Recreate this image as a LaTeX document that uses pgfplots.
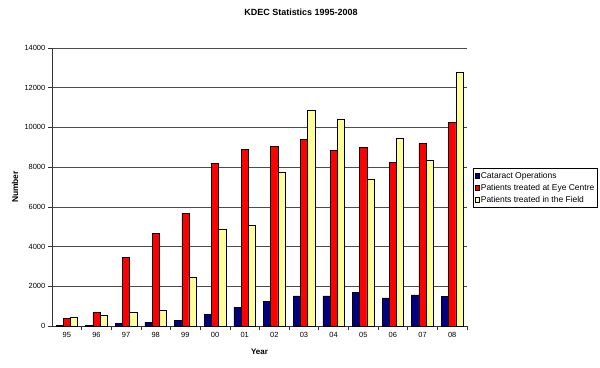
\documentclass[border=0pt]{standalone}
\usepackage{fontspec}
\setmainfont{Liberation Sans}
\usepackage{pgfplots}
\pgfplotsset{compat=1.18}
\definecolor{navyb}{RGB}{0,0,128}
\definecolor{lyellow}{RGB}{255,255,153}
\begin{document}
\fontsize{7.5}{9}\selectfont
\begin{tikzpicture}
\begin{axis}[
  at={(0,0)}, anchor=south west,
  width=415bp, height=278bp, scale only axis,
  ybar=0pt, bar width=7.2bp,
  xmin=-0.5, xmax=13.5, ymin=0, ymax=14000,
  xtick={0,...,13},
  xticklabels={95,96,97,98,99,00,01,02,03,04,05,06,07,08},
  major x tick style={draw=none},
  minor xtick={0.5,1.5,...,13.5},
  tick align=outside,
  major tick length=4bp, minor tick length=4bp,
  axis x line*=bottom, axis y line*=left,
  axis line style={black!80, line width=0.6bp},
  every tick/.style={black!80, line width=0.6bp},
  ymajorgrids, grid style={black!70, line width=0.6bp},
  ytick={0,2000,...,14000},
  scaled y ticks=false,
  yticklabel style={/pgf/number format/1000 sep={}},
  /pgf/number format/assume math mode=true,
  tick label style={font=\fontsize{7.5}{9}\selectfont},
  title={KDEC Statistics 1995-2008},
  title style={at={(axis description cs:0.6,1.108)}, anchor=center, font=\bfseries\fontsize{9}{11}\selectfont},
  xlabel={Year},
  xlabel style={at={(axis description cs:0.5,-0.094)}, anchor=center, font=\bfseries\fontsize{8}{10}\selectfont},
  ylabel={Number},
  ylabel style={at={(axis description cs:-0.089,0.5)}, anchor=center, font=\bfseries\fontsize{8.5}{10}\selectfont},
  legend style={at={(1.014,0.497)}, anchor=west, draw=black, line width=0.5bp,
    font=\fontsize{8.5}{10}\selectfont, row sep=2.4bp, inner xsep=1.5bp, inner ysep=3bp, cells={anchor=west},
    nodes={inner sep=1.2bp}},
  legend image code/.code={\draw[#1, line width=0.5bp] (0bp,-2.3bp) rectangle (4.6bp,2.3bp);},
]
\addplot[fill=navyb, draw=black, line width=0.5bp] coordinates {
(0,20) (1,30) (2,120) (3,190) (4,290) (5,580) (6,950) (7,1250) (8,1520) (9,1520) (10,1700) (11,1420) (12,1570) (13,1490)};
\addplot[fill=red, draw=black, line width=0.5bp] coordinates {
(0,390) (1,675) (2,3443) (3,4678) (4,5671) (5,8187) (6,8911) (7,9063) (8,9387) (9,8861) (10,8982) (11,8222) (12,9215) (13,10248)};
\addplot[fill=lyellow, draw=black, line width=0.5bp] coordinates {
(0,458) (1,540) (2,694) (3,795) (4,2450) (5,4881) (6,5063) (7,7767) (8,10855) (9,10400) (10,7412) (11,9437) (12,8354) (13,12795)};
\legend{Cataract Operations, Patients treated at Eye Centre, Patients treated in the Field}
\end{axis}
\pgfresetboundingbox
\path[use as bounding box] (-52bp,-42bp) rectangle (548bp,326bp);
\end{tikzpicture}
\end{document}
